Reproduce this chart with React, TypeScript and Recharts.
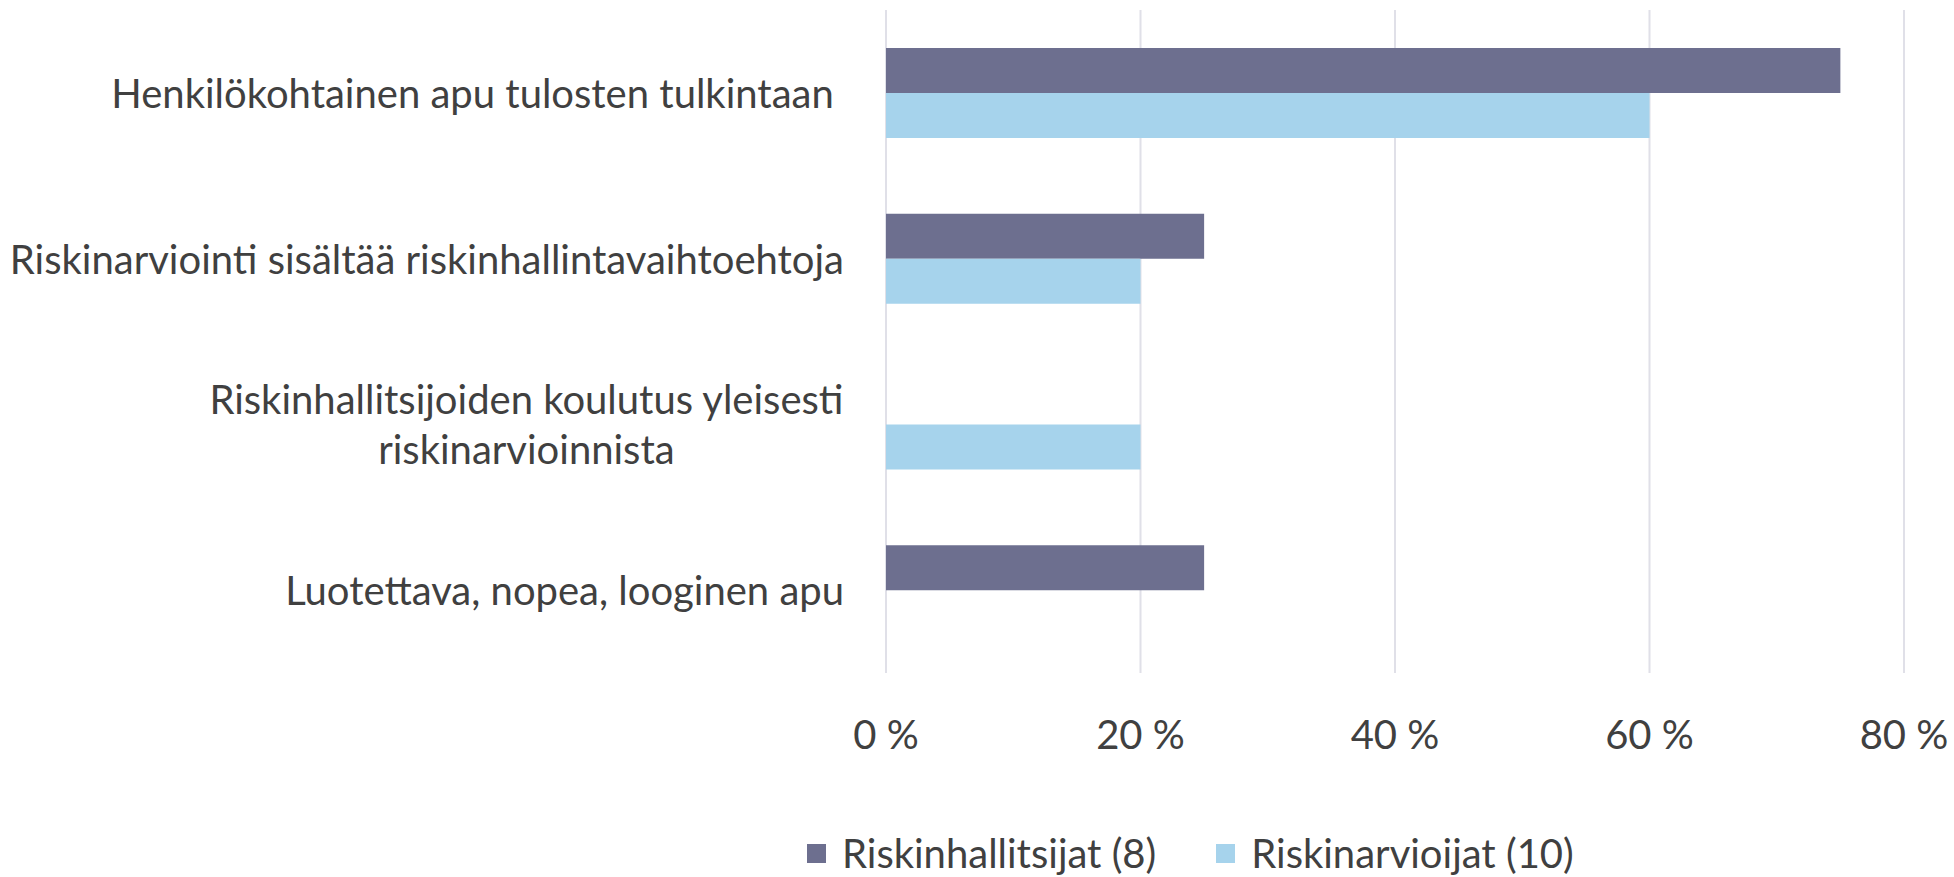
import React from "react";
import {
  BarChart,
  Bar,
  XAxis,
  YAxis,
  CartesianGrid,
  Legend,
} from "recharts";

const categories = [
  "Henkilökohtainen apu tulosten tulkintaan\u00a0",
  "Riskinarviointi sisältää riskinhallintavaihtoehtoja",
  "Riskinhallitsijoiden koulutus yleisesti|riskinarvioinnista",
  "Luotettava, nopea, looginen apu",
];
const riskinhallitsijat = [75, 25, 0, 25];
const riskinarvioijat = [60, 20, 20, 0];
const xTicks = [0, 20, 40, 60, 80];

const seriesNames = ["Riskinhallitsijat (8)", "Riskinarvioijat (10)"];
const colors = ["#6d6f8f", "#a6d3ec"];

const FONT = "Lato, 'Open Sans', sans-serif";
const FONT_SIZE = 40;
const TEXT_COLOR = "#404040";

const data = categories.map((c, i) => ({
  name: c,
  a: riskinhallitsijat[i],
  b: riskinarvioijat[i],
}));

// measure text so wrapped label lines can be centred on the first line
let ctx: CanvasRenderingContext2D | null = null;
const measure = (s: string) => {
  if (!ctx) ctx = document.createElement("canvas").getContext("2d");
  if (!ctx) return s.length * FONT_SIZE * 0.5;
  ctx.font = `${FONT_SIZE}px ${FONT}`;
  return ctx.measureText(s).width;
};

const CategoryTick = (props: any) => {
  const { x, y, payload } = props;
  const lines: string[] = String(payload.value).split("|");
  const right = x - 34;
  if (lines.length === 1) {
    return (
      <text
        x={right}
        y={y}
        textAnchor="end"
        dominantBaseline="central"
        fill={TEXT_COLOR}
        fontSize={FONT_SIZE}
        fontFamily={FONT}
        style={{ whiteSpace: "pre" }}
      >
        {lines[0]}
      </text>
    );
  }
  const w = measure(lines[0]);
  const cx = right - w / 2;
  const lh = 50;
  return (
    <text
      x={cx}
      y={y}
      textAnchor="middle"
      fill={TEXT_COLOR}
      fontSize={FONT_SIZE}
      fontFamily={FONT}
    >
      {lines.map((l, i) => (
        <tspan
          key={i}
          x={cx}
          y={y + (i - (lines.length - 1) / 2) * lh}
          dominantBaseline="central"
        >
          {l}
        </tspan>
      ))}
    </text>
  );
};

const ValueTick = (props: any) => {
  const { x, y, payload } = props;
  return (
    <text
      x={x}
      y={y + 53}
      textAnchor="middle"
      dominantBaseline="central"
      fill={TEXT_COLOR}
      fontSize={FONT_SIZE}
      fontFamily={FONT}
    >
      {`${payload.value} %`}
    </text>
  );
};

const renderLegend = () => (
  <div
    style={{
      display: "flex",
      justifyContent: "flex-start",
      alignItems: "flex-end",
      height: 90,
      paddingLeft: 807,
      boxSizing: "border-box",
      fontFamily: FONT,
      fontSize: FONT_SIZE,
      color: TEXT_COLOR,
    }}
  >
    {seriesNames.map((n, i) => (
      <div
        key={n}
        style={{ display: "flex", alignItems: "center", marginRight: i === 0 ? 60 : 0 }}
      >
        <span
          style={{
            width: 19,
            height: 19,
            background: colors[i],
            display: "inline-block",
            marginRight: 16,
          }}
        />
        <span>{n}</span>
      </div>
    ))}
  </div>
);

export default function App() {
  return (
    <div style={{ position: "absolute", left: 0, top: 0, background: "#fff" }}>
      <BarChart
        width={1954}
        height={877}
        data={data}
        layout="vertical"
        margin={{ top: 10, right: 50, left: 0, bottom: 0 }}
        barCategoryGap="23%"
        barGap={0}
      >
        <CartesianGrid horizontal={false} stroke="#e0e0e8" strokeWidth={2} />
        <XAxis
          type="number"
          domain={[0, 80]}
          ticks={xTicks}
          axisLine={false}
          tickLine={false}
          tick={<ValueTick />}
          height={114}
          interval={0}
        />
        <YAxis
          type="category"
          dataKey="name"
          width={886}
          axisLine={false}
          tickLine={false}
          tick={<CategoryTick />}
          interval={0}
        />
        <Legend verticalAlign="bottom" content={renderLegend} />
        <Bar dataKey="a" name={seriesNames[0]} fill={colors[0]} isAnimationActive={false} />
        <Bar dataKey="b" name={seriesNames[1]} fill={colors[1]} isAnimationActive={false} />
      </BarChart>
    </div>
  );
}
